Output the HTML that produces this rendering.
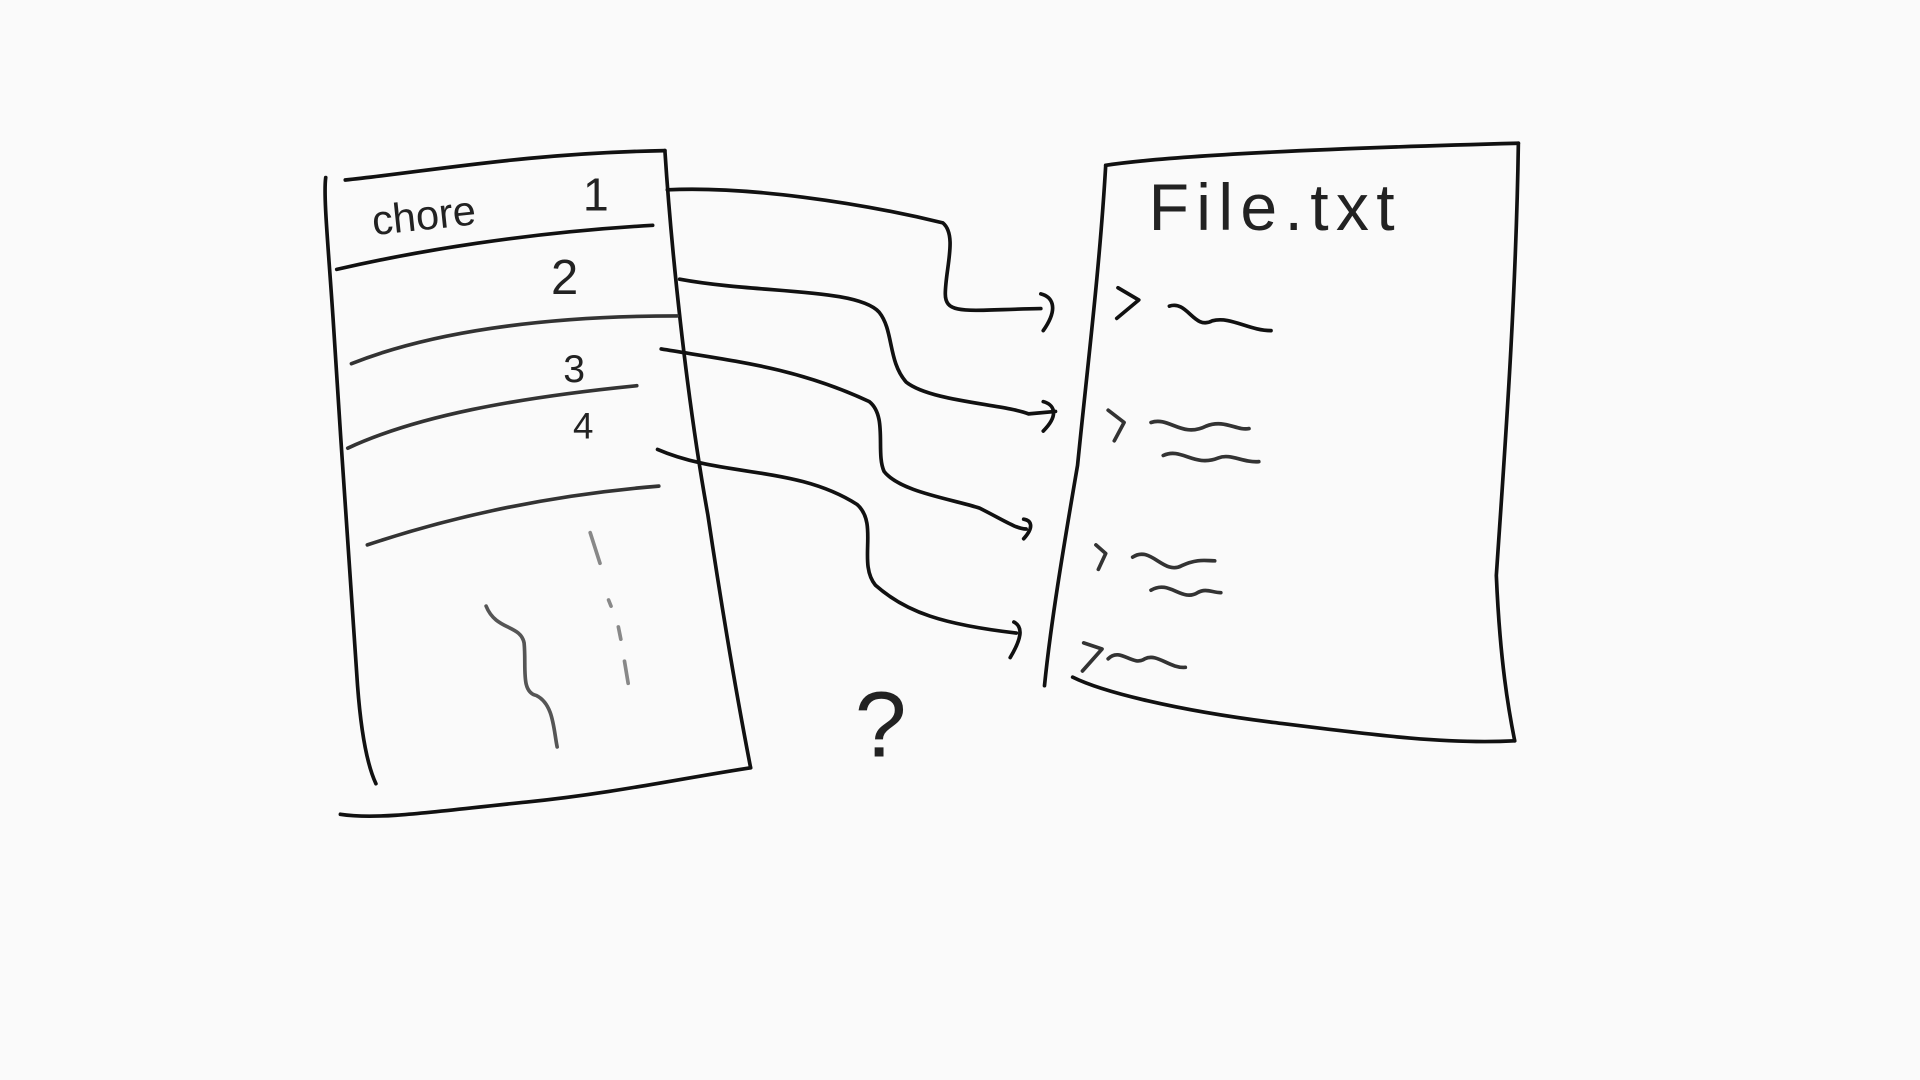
<!DOCTYPE html>
<html><head><meta charset="utf-8"><style>
html,body{margin:0;padding:0;background:#fafafa;width:1920px;height:1080px;overflow:hidden}
svg{display:block}
text{font-family:"Liberation Sans",sans-serif;fill:#222}
</style></head><body>
<svg width="1920" height="1080" viewBox="0 0 1568 882" preserveAspectRatio="none">
<rect width="1568" height="882" fill="#fafafa"/>
<g fill="none" stroke="#111" stroke-width="3" stroke-linecap="round" stroke-linejoin="round">
 <g>
  <path d="M266,145 C264,160 268,200 272,260 C278,360 285,450 292,560 C295,600 300,625 307,640"/>
  <path d="M282,147 C350,140 430,125 543,123"/>
  <path d="M543,123 C548,200 560,320 578,420 C590,500 600,560 613,627"/>
  <path d="M613,627 C560,635 500,648 430,655 C360,662 310,670 278,665"/>
  <path d="M275,220 C340,205 430,190 533,184"/>
  <path d="M287,297 C350,272 440,258 553,258" stroke="#333"/>
  <path d="M284,366 C340,340 420,325 520,315" stroke="#333"/>
  <path d="M300,445 C360,425 440,405 538,397" stroke="#333"/>
  <path d="M397,495 C405,515 425,510 428,525 C430,545 425,565 438,568 C452,575 452,595 455,610" stroke="#555"/>
  <path d="M482,435 L490,460 M497,490 L499,495 M505,512 L507,522 M510,540 L513,558" stroke="#888"/>
 </g>
 <g>
  <path d="M903,135 C950,128 1050,122 1240,117"/>
  <path d="M1240,117 C1238,250 1228,380 1222,470 C1225,540 1232,580 1237,605"/>
  <path d="M1237,605 C1180,608 1120,600 1040,590 C960,580 900,565 876,553"/>
  <path d="M903,135 C898,220 888,300 880,380 C868,450 858,510 853,560"/>
  <path d="M913,235 L930,245 L912,260 M955,250 C970,245 975,270 990,262 C1005,258 1020,270 1038,270"/>
  <path d="M905,335 L918,345 L910,360 M940,345 C955,340 965,358 985,348 C1000,342 1010,352 1020,350 M950,372 C965,365 975,382 995,374 C1005,370 1015,378 1028,377" stroke="#333"/>
  <path d="M895,445 L903,452 L897,465 M925,455 C940,445 950,470 965,462 C978,456 985,458 992,458 M940,482 C955,473 965,492 978,484 C985,480 990,484 997,484" stroke="#333"/>
  <path d="M885,525 L900,530 L884,548 M905,538 C915,528 925,545 935,538 C945,533 955,546 968,545" stroke="#333"/>
 </g>
 <g>
  <path d="M545,155 C610,152 700,165 770,182 C782,192 772,220 772,240 C772,258 790,253 850,252 M850,240 C858,242 866,250 852,270"/>
  <path d="M555,228 C620,240 700,235 718,255 C730,270 725,295 740,312 C760,328 820,330 840,338 L862,336 M852,328 C860,330 866,338 852,352"/>
  <path d="M540,285 C600,295 650,300 710,328 C725,340 715,370 722,385 C735,402 780,408 800,415 C820,425 830,432 838,432 M836,424 C842,425 845,430 836,440"/>
  <path d="M537,367 C590,390 650,380 700,412 C718,428 700,460 715,478 C740,500 770,510 830,517 M828,508 C836,512 834,522 825,537"/>
 </g>
</g>
<text x="305" y="192" font-size="34" transform="rotate(-6 305 192)">chore</text>
<text x="476" y="172" font-size="38" fill="#444">1</text>
<text x="450" y="240" font-size="40" fill="#333">2</text>
<text x="460" y="312" font-size="32" fill="#444">3</text>
<text x="468" y="358" font-size="30" fill="#444">4</text>
<text x="938" y="188" font-size="54" fill="#666" letter-spacing="6">File.txt</text>
<text x="698" y="618" font-size="76" fill="#333">?</text>
</svg>
</body></html>
